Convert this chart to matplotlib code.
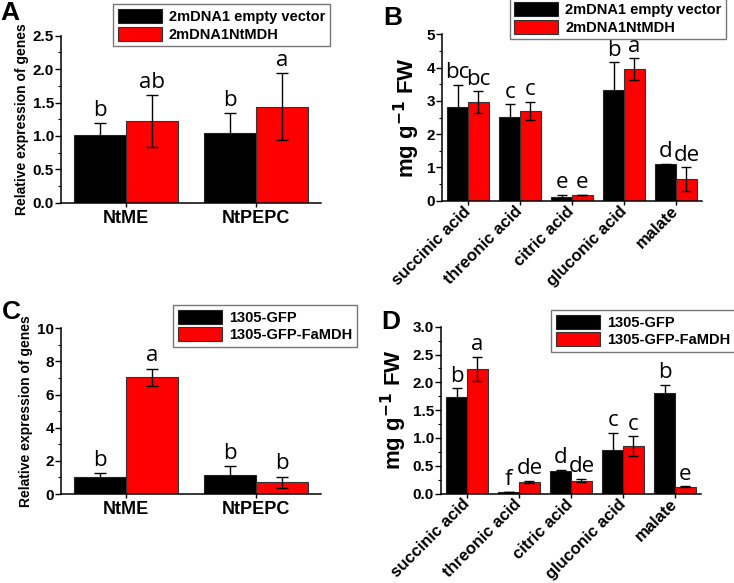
import numpy as np
import matplotlib
matplotlib.use('Agg')
import matplotlib.pyplot as plt
from matplotlib.ticker import MultipleLocator

plt.rcParams['font.family'] = ['Liberation Sans', 'DejaVu Sans']

# panel A / C genes
genes = ['NtME', 'NtPEPC']
# panel B / D acids
acids = ['succinic acid', 'threonic acid', 'citric acid', 'gluconic acid', 'malate']

# A
a_ctrl = [1.01, 1.04]
a_ctrl_err = [0.18, 0.30]
a_mdh = [1.22, 1.44]
a_mdh_err = [0.39, 0.50]
a_letters_ctrl = ['b', 'b']
a_letters_mdh = ['ab', 'a']

# B
b_ctrl = [2.83, 2.53, 0.12, 3.32, 1.09]
b_ctrl_err = [0.65, 0.37, 0.05, 0.84, 0.02]
b_mdh = [2.96, 2.70, 0.17, 3.96, 0.65]
b_mdh_err = [0.33, 0.27, 0.01, 0.32, 0.35]
b_letters_ctrl = ['bc', 'c', 'e', 'b', 'd']
b_letters_mdh = ['bc', 'c', 'e', 'a', 'de']

# C
c_ctrl = [1.04, 1.14]
c_ctrl_err = [0.22, 0.52]
c_mdh = [7.04, 0.70]
c_mdh_err = [0.52, 0.34]
c_letters_ctrl = ['b', 'b']
c_letters_mdh = ['a', 'b']

# D
d_ctrl = [1.74, 0.03, 0.40, 0.79, 1.80]
d_ctrl_err = [0.15, 0.005, 0.02, 0.30, 0.15]
d_mdh = [2.24, 0.21, 0.23, 0.85, 0.12]
d_mdh_err = [0.22, 0.02, 0.03, 0.18, 0.01]
d_letters_ctrl = ['b', 'f', 'd', 'c', 'b']
d_letters_mdh = ['a', 'de', 'de', 'c', 'e']

legend_ab = ['2mDNA1 empty vector', '2mDNA1NtMDH']
legend_cd = ['1305-GFP', '1305-GFP-FaMDH']

W, H = 734, 583
fig = plt.figure(figsize=(W / 100, H / 100), dpi=100)


def ax_px(left, right, top, bottom):
    return fig.add_axes([left / W, 1 - bottom / H, (right - left) / W, (bottom - top) / H])


def panel(ax, cats, ctrl, ctrl_err, mdh, mdh_err, lc, lm, ymax, major, minor,
          ylabel, ylab_size, rotate, leg_labels, leg_box, lab, lab_xy, pad):
    x = np.arange(1, len(cats) + 1)
    w = 0.4
    ekw = dict(ecolor='black', elinewidth=1.0, capsize=4 if not rotate else 3.5, capthick=1.0)
    b1 = ax.bar(x - w / 2, ctrl, w, yerr=ctrl_err, color='black', edgecolor='#222222',
                linewidth=0.8, error_kw=ekw, label=leg_labels[0])
    b2 = ax.bar(x + w / 2, mdh, w, yerr=mdh_err, color='#ff0000', edgecolor='#333333',
                linewidth=0.8, error_kw=ekw, label=leg_labels[1])
    for xi, v, e, t in zip(x - w / 2, ctrl, ctrl_err, lc):
        ax.text(xi, v + e + pad, t, ha='center', va='bottom', fontsize=16, family='Open Sans')
    for xi, v, e, t in zip(x + w / 2, mdh, mdh_err, lm):
        ax.text(xi, v + e + pad, t, ha='center', va='bottom', fontsize=16, family='Open Sans')
    ax.set_xlim(0.5, len(cats) + 0.5)
    ax.set_ylim(0, ymax)
    ax.yaxis.set_major_locator(MultipleLocator(major))
    ax.yaxis.set_minor_locator(MultipleLocator(minor))
    ax.set_xticks(x)
    if rotate:
        ax.set_xticklabels(cats, rotation=45, ha='right', va='center', rotation_mode='anchor',
                           fontsize=12, fontweight='bold')
    else:
        ax.set_xticklabels(cats, fontsize=13, fontweight='bold')
    for t in ax.get_yticklabels():
        t.set_fontweight('bold')
        t.set_fontsize(11)
    for s in ['top', 'right']:
        ax.spines[s].set_visible(False)
    for s in ['left', 'bottom']:
        ax.spines[s].set_linewidth(1.1)
    ax.tick_params(axis='y', which='major', direction='out', length=4, width=1.0, pad=1)
    ax.tick_params(axis='y', which='minor', direction='out', length=2, width=0.8)
    ax.tick_params(axis='x', which='major', direction='out', length=3, width=1.0,
                   pad=3 if rotate else 2)
    ax.set_ylabel(ylabel, fontsize=ylab_size, fontweight='bold', labelpad=3)
    l, r, t, b = leg_box
    fig.legend(handles=[b1, b2], loc='center', ncol=1,
               bbox_to_anchor=((l + r) / 2 / W, 1 - (t + b) / 2 / H),
               prop={'weight': 'bold', 'size': 10.5}, fancybox=False, edgecolor='#777777',
               framealpha=1, handlelength=3.0, handleheight=1.1, borderpad=0.3,
               labelspacing=0.2, handletextpad=0.5, borderaxespad=0)
    fig.text(lab_xy[0] / W, 1 - lab_xy[1] / H, lab, fontsize=19, fontweight='bold',
             ha='left', va='top')


axA = ax_px(61, 321, 35.7, 202.7)
panel(axA, genes, a_ctrl, a_ctrl_err, a_mdh, a_mdh_err, a_letters_ctrl, a_letters_mdh,
      2.5, 0.5, 0.25, 'Relative expression of genes', 10, False, legend_ab,
      (121, 322, 7.5, 43), 'A', (0, 1), 0.03)

axB = ax_px(442, 702, 34.3, 200.7)
panel(axB, acids, b_ctrl, b_ctrl_err, b_mdh, b_mdh_err, b_letters_ctrl, b_letters_mdh,
      5, 1, 0.5, r'mg g$^{\mathbf{-1}}$ FW', 16, True, legend_ab,
      (517, 719, 1, 36), 'B', (383, 6), 0.05)

axC = ax_px(60.7, 321, 328.3, 494)
panel(axC, genes, c_ctrl, c_ctrl_err, c_mdh, c_mdh_err, c_letters_ctrl, c_letters_mdh,
      10, 2, 1, 'Relative expression of genes', 10, False, legend_cd,
      (182, 348, 308, 344), 'C', (2, 300), 0.15)

axD = ax_px(441, 701, 326.7, 493.5)
panel(axD, acids, d_ctrl, d_ctrl_err, d_mdh, d_mdh_err, d_letters_ctrl, d_letters_mdh,
      3.0, 0.5, 0.25, r'mg g$^{\mathbf{-1}}$ FW', 16, True, legend_cd,
      (564, 722, 313, 349), 'D', (381, 310), 0.03)

fig.savefig('out.png', dpi=100)
